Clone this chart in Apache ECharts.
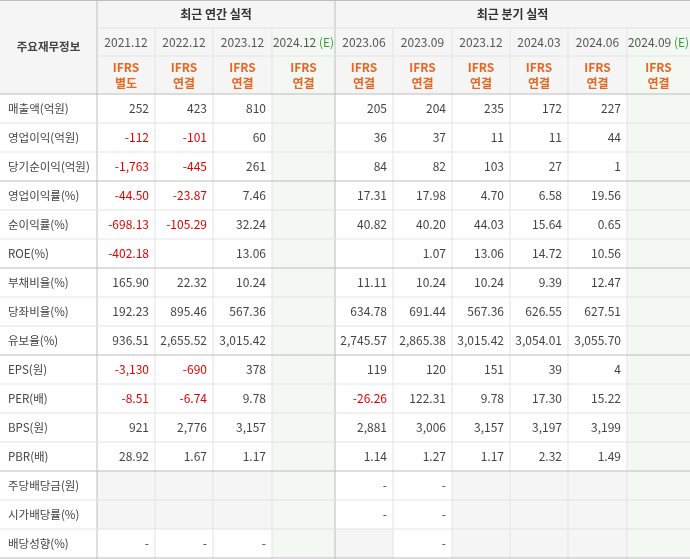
<!DOCTYPE html>
<html><head><meta charset="utf-8">
<script src="https://cdn.jsdelivr.net/npm/echarts@6/dist/echarts.min.js"></script>
<style>html,body{margin:0;padding:0;background:#fff}#c{width:690px;height:559px}</style>
</head><body><div id="c"></div>
<script>
const periods = ['2021.12','2022.12','2023.12','2024.12','2023.06','2023.09','2023.12','2024.03','2024.06','2024.09'];
const estimate = [false,false,false,true,false,false,false,false,false,true];
const standards = ['별도','연결','연결','연결','연결','연결','연결','연결','연결','연결'];
const rowLabels = ['매출액(억원)','영업이익(억원)','당기순이익(억원)','영업이익률(%)','순이익률(%)','ROE(%)','부채비율(%)','당좌비율(%)','유보율(%)','EPS(원)','PER(배)','BPS(원)','PBR(배)','주당배당금(원)','시가배당률(%)','배당성향(%)'];
const values = [
 ['252','423','810','','205','204','235','172','227',''],
 ['-112','-101','60','','36','37','11','11','44',''],
 ['-1,763','-445','261','','84','82','103','27','1',''],
 ['-44.50','-23.87','7.46','','17.31','17.98','4.70','6.58','19.56',''],
 ['-698.13','-105.29','32.24','','40.82','40.20','44.03','15.64','0.65',''],
 ['-402.18','','13.06','','','1.07','13.06','14.72','10.56',''],
 ['165.90','22.32','10.24','','11.11','10.24','10.24','9.39','12.47',''],
 ['192.23','895.46','567.36','','634.78','691.44','567.36','626.55','627.51',''],
 ['936.51','2,655.52','3,015.42','','2,745.57','2,865.38','3,015.42','3,054.01','3,055.70',''],
 ['-3,130','-690','378','','119','120','151','39','4',''],
 ['-8.51','-6.74','9.78','','-26.26','122.31','9.78','17.30','15.22',''],
 ['921','2,776','3,157','','2,881','3,006','3,157','3,197','3,199',''],
 ['28.92','1.67','1.17','','1.14','1.27','1.17','2.32','1.49',''],
 [null,null,null,'',  '-','-',null,null,null,''],
 [null,null,null,'',  '-','-',null,null,null,''],
 ['-','-','-','',null,'-',null,null,null,'']
];
const groupTitles = ['최근 연간 실적','최근 분기 실적'];
// layout
const colEdges=[0,97,155,213,272,335,393,452,510,568,627,690];
const rowH=29;
const groupBreaks=[3,6,9,13];
const GRAY='#f5f5f5', GREEN='#f3f8f2', LINE='#e3e3e3', DARK='#bdbdbd';

const cells=[];
cells.push({k:'rect',x0:0,x1:97,y0:0,y1:94,fill:GRAY});
cells.push({k:'text',x0:0,x1:97,y0:0,y1:94,t:'주요재무정보',color:'#444',align:'center',bold:true,size:11.5});
for(let g=0;g<2;g++){
  const a=colEdges[1+g*4], b=g?690:335;
  cells.push({k:'rect',x0:a,x1:b,y0:0,y1:28,fill:GRAY});
  cells.push({k:'text',x0:a,x1:b,y0:0,y1:28,t:groupTitles[g],color:'#333',align:'center',bold:true});
}
periods.forEach((p,i)=>{
  const a=colEdges[i+1],b=colEdges[i+2];
  cells.push({k:'rect',x0:a,x1:b,y0:28,y1:94,fill:estimate[i]?GREEN:GRAY});
  cells.push({k:'text',x0:a,x1:b,y0:28,y1:56,t:p,est:estimate[i],color:'#555',align:'center'});
  cells.push({k:'text',x0:a,x1:b,y0:56,y1:94,t:'IFRS\n'+standards[i],color:'#e8661f',align:'center',bold:true});
});
rowLabels.forEach((l,r)=>{
  const y0=94+r*rowH,y1=y0+rowH;
  cells.push({k:'text',x0:8,x1:97,y0,y1,t:l,color:'#444',align:'left',size:11.5});
  values[r].forEach((v,i)=>{
    const a=colEdges[i+1],b=colEdges[i+2];
    if(estimate[i]) cells.push({k:'rect',x0:a,x1:b,y0,y1,fill:GREEN});
    else if(v===null) cells.push({k:'rect',x0:a,x1:b,y0,y1,fill:GRAY});
    else if(v!=='') cells.push({k:'text',x0:a,x1:b-6,y0,y1,t:v,color:v.startsWith('-')&&v.length>1?'#e60000':'#444',align:'right'});
  });
});
const lines=[];
for(let i=2;i<11;i++){ if(i!==5) lines.push({x0:colEdges[i],x1:colEdges[i],y0:28,y1:559,c:LINE}); }
lines.push({x0:97,x1:97,y0:0,y1:559,c:DARK});
lines.push({x0:335,x1:335,y0:0,y1:559,c:DARK});
lines.push({x0:97,x1:690,y0:28,y1:28,c:LINE});
lines.push({x0:97,x1:690,y0:56,y1:56,c:LINE});
lines.push({x0:0,x1:690,y0:0.5,y1:0.5,c:DARK});
lines.push({x0:0,x1:690,y0:94,y1:94,c:DARK});
for(let r=1;r<=16;r++){
  const y=94+r*rowH;
  lines.push({x0:0,x1:690,y0:Math.min(y,558.5),y1:Math.min(y,558.5),c:(groupBreaks.includes(r)||r===16)?DARK:LINE});
}
lines.forEach(l=>cells.push(Object.assign({k:'line'},l)));

const chart=echarts.init(document.getElementById('c'));
chart.setOption({
  animation:false,
  grid:{left:0,right:0,top:0,bottom:0},
  xAxis:{type:'value',min:0,max:690,show:false},
  yAxis:{type:'value',min:0,max:559,inverse:true,show:false},
  series:[{type:'custom',coordinateSystem:'cartesian2d',data:cells.map((c,i)=>[i]),
    renderItem:(params,api)=>{
      const c=cells[api.value(0)];
      const p0=api.coord([c.x0,c.y0]),p1=api.coord([c.x1,c.y1]);
      if(c.k==='rect') return {type:'rect',shape:{x:p0[0],y:p0[1],width:p1[0]-p0[0],height:p1[1]-p0[1]},style:{fill:c.fill}};
      if(c.k==='line') return {type:'line',shape:{x1:p0[0],y1:p0[1],x2:p1[0],y2:p1[1]},style:{stroke:c.c,lineWidth:1}};
      const x=c.align==='center'?(p0[0]+p1[0])/2:(c.align==='left'?p0[0]:p1[0]);
      const txt=c.est?'{a|'+c.t+' }{e|(E)}':c.t;
      const sz=(c.size||12)+'px';
      return {type:'text',x:x,y:(p0[1]+p1[1])/2,style:{text:txt,fill:c.color,align:c.align,verticalAlign:'middle',
        font:(c.bold?'bold ':'')+sz+' "Noto Sans CJK KR"',lineHeight:16,
        rich:{a:{fill:'#555',font:'12px "Noto Sans CJK KR"'},e:{fill:'#3a9a3a',font:'12px "Noto Sans CJK KR"'}}}};
    }}]
});
</script></body></html>
